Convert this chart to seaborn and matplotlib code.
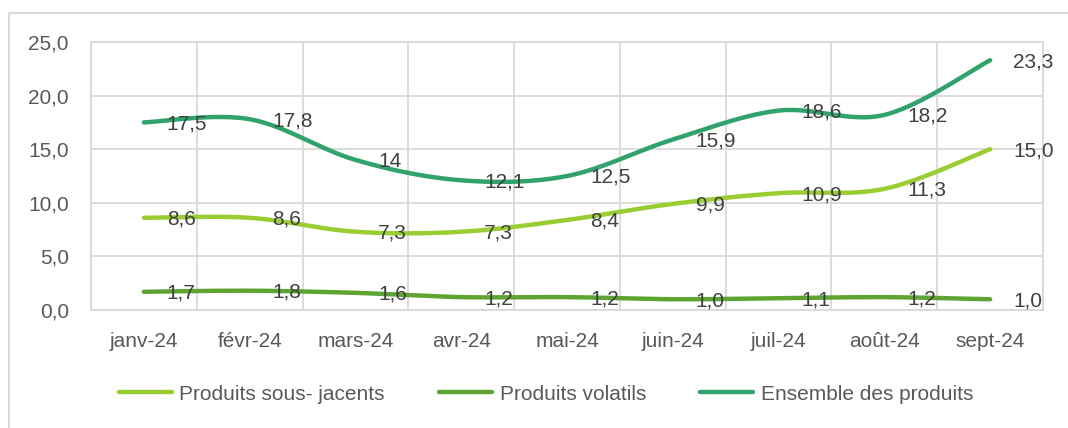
import numpy as np
import pandas as pd
import seaborn as sb
import matplotlib.pyplot as plt
from matplotlib.lines import Line2D

months = ["janv-24", "févr-24", "mars-24", "avr-24", "mai-24",
          "juin-24", "juil-24", "août-24", "sept-24"]
sous_jacents = [8.6, 8.6, 7.3, 7.3, 8.4, 9.9, 10.9, 11.3, 15.0]
volatils = [1.7, 1.8, 1.6, 1.2, 1.2, 1.0, 1.1, 1.2, 1.0]
ensemble = [17.5, 17.8, 14, 12.1, 12.5, 15.9, 18.6, 18.2, 23.3]
labels_ensemble = ["17,5", "17,8", "14", "12,1", "12,5", "15,9", "18,6", "18,2", "23,3"]

series = [
    ("Produits sous- jacents", sous_jacents, "#9ACD32"),
    ("Produits volatils", volatils, "#5EA432"),
    ("Ensemble des produits", ensemble, "#2FA36B"),
]

FS = 15


def smooth(y, n=30):
    """excel-like smoothed line (catmull-rom bezier)"""
    y = np.asarray(y, dtype=float)
    x = np.arange(len(y), dtype=float)
    px = np.concatenate([[x[0]], x, [x[-1]]])
    py = np.concatenate([[y[0]], y, [y[-1]]])
    xs, ys = [], []
    t = np.linspace(0, 1, n, endpoint=False)
    for i in range(len(y) - 1):
        p0x, p1x = px[i + 1], px[i + 2]
        p0y, p1y = py[i + 1], py[i + 2]
        c1x = p0x + (px[i + 2] - px[i]) / 6
        c1y = p0y + (py[i + 2] - py[i]) / 6
        c2x = p1x - (px[i + 3] - px[i + 1]) / 6
        c2y = p1y - (py[i + 3] - py[i + 1]) / 6
        b0, b1, b2, b3 = (1 - t) ** 3, 3 * t * (1 - t) ** 2, 3 * t ** 2 * (1 - t), t ** 3
        xs.append(b0 * p0x + b1 * c1x + b2 * c2x + b3 * p1x)
        ys.append(b0 * p0y + b1 * c1y + b2 * c2y + b3 * p1y)
    xs.append([x[-1]])
    ys.append([y[-1]])
    return np.concatenate(xs), np.concatenate(ys)


def fmt(v):
    return f"{v:.1f}".replace(".", ",")


sb.set_style("white")
plt.rcParams["font.family"] = ["Liberation Sans", "DejaVu Sans"]

fig = plt.figure(figsize=(10.68, 4.28), dpi=100)
ax = fig.add_axes([91 / 1068, 1 - 310 / 428, (1043 - 91) / 1068, (310 - 42) / 428])

grid = "#D9D9D9"
for k in np.arange(-0.5, 9, 1.0):
    ax.axvline(k, color=grid, lw=1.3, zorder=0)
for k in range(0, 26, 5):
    ax.axhline(k, color=grid, lw=1.3, zorder=0)

handles = []
for name, vals, col in series:
    sx, sy = smooth(vals)
    df = pd.DataFrame({"x": sx, "y": sy})
    sb.lineplot(data=df, x="x", y="y", sort=False, color=col, lw=3.2, ax=ax,
                solid_capstyle="round", zorder=3)
    handles.append(Line2D([], [], color=col, lw=3.2, solid_capstyle="round"))
    labs = labels_ensemble if vals is ensemble else [fmt(v) for v in vals]
    for i, (v, lab) in enumerate(zip(vals, labs)):
        ax.annotate(lab, (i, v), xytext=(16.5, -1), textcoords="offset points",
                    ha="left", va="center", fontsize=FS, color="#404040", zorder=4)

ax.set_xlim(-0.5, 8.5)
ax.set_ylim(0, 25)
ax.set_xticks(range(len(months)))
ax.set_xticklabels(months)
ax.set_yticks(range(0, 26, 5))
ax.set_yticklabels([fmt(v) for v in range(0, 26, 5)])
ax.tick_params(axis="both", length=0, labelsize=FS, labelcolor="#595959")
ax.tick_params(axis="y", pad=16)
ax.tick_params(axis="x", pad=16)
ax.set_xlabel("")
ax.set_ylabel("")
for s in ax.spines.values():
    s.set_color(grid)
    s.set_linewidth(1.3)

fig.legend(handles, [s[0] for s in series], loc="center", ncol=3,
           bbox_to_anchor=(546 / 1068, 1 - 394 / 428), frameon=False,
           fontsize=FS, labelcolor="#595959", handlelength=2.55,
           handletextpad=0.35, columnspacing=2.6)

# chart area border (only left and top visible in the crop)
fig.add_artist(Line2D([9 / 1068, 9 / 1068, 1.0], [0.0, 1 - 13 / 428, 1 - 13 / 428],
                      transform=fig.transFigure, color=grid, lw=1.5))

fig.savefig("out.png", dpi=100)
